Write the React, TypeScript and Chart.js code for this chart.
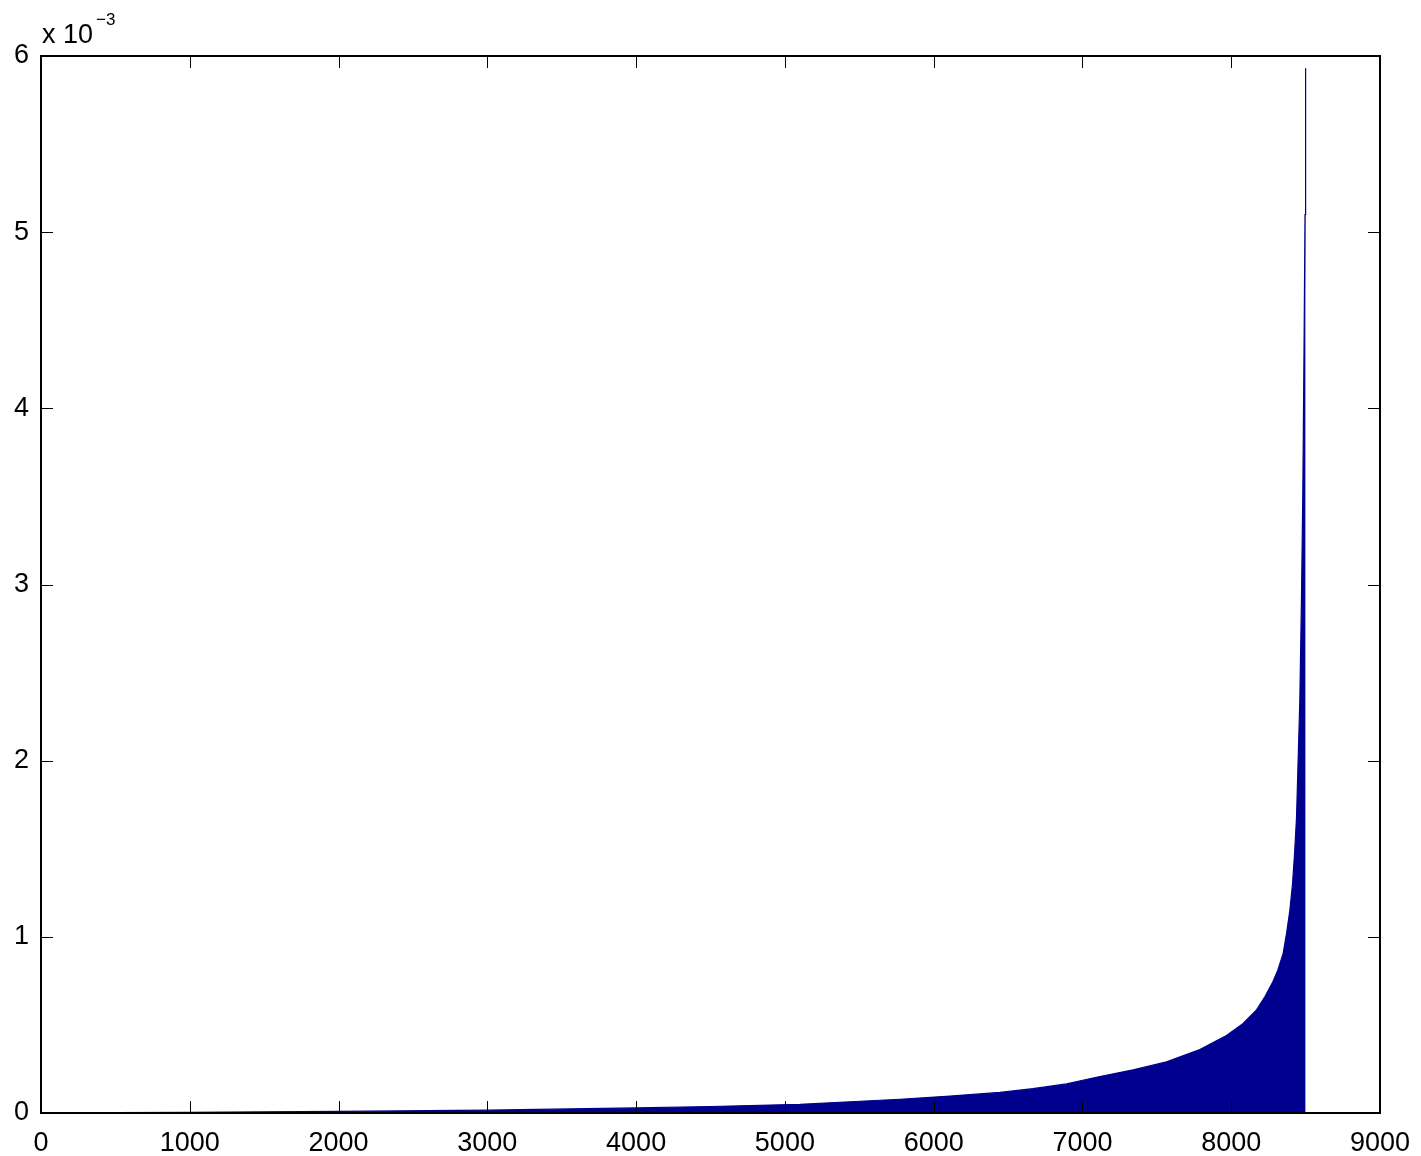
import React, { useEffect, useRef } from "react";
import { Chart, registerables } from "chart.js";

Chart.register(...registerables);

// Sorted values (units of 1e-3) at sample indices
const sampleIndex = [1, 1000, 2000, 3000, 4000, 4500, 5101, 5437, 5773, 6109, 6445, 6667, 6893, 7117, 7341, 7565, 7789, 7968, 8078, 8170, 8226, 8280, 8313, 8349, 8372, 8394, 8412, 8427, 8439, 8461, 8472, 8481, 8490, 8496, 8500];
const valueE3 = [0.001, 0.004, 0.009, 0.016, 0.029, 0.037, 0.049, 0.064, 0.078, 0.096, 0.117, 0.138, 0.165, 0.207, 0.245, 0.29, 0.36, 0.44, 0.507, 0.585, 0.66, 0.745, 0.81, 0.906, 1.02, 1.15, 1.3, 1.49, 1.68, 2.34, 2.91, 3.5, 4.4, 5.1, 5.93];

const xTicks = [0, 1000, 2000, 3000, 4000, 5000, 6000, 7000, 8000, 9000];
const yTicks = [0, 1, 2, 3, 4, 5, 6];
const exponentBase = "x 10";
const exponentPower = "\u22123";

const FONT = "'Liberation Sans', Arial, Helvetica, sans-serif";
const BLUE = "#00008F";

const boxPlugin = {
  id: "matlabBox",
  afterDraw(chart: any) {
    const { ctx, chartArea } = chart;
    const { left, right, top, bottom } = chartArea;
    const xs = chart.scales.x;
    const ys = chart.scales.y;
    ctx.save();
    ctx.strokeStyle = "#000";
    ctx.lineWidth = 2;
    ctx.strokeRect(left, top, right - left, bottom - top);
    ctx.lineWidth = 1;
    const tl = 12;
    ctx.beginPath();
    xs.ticks.forEach((t: any) => {
      const p = Math.round(xs.getPixelForValue(t.value)) + 0.5;
      ctx.moveTo(p, bottom);
      ctx.lineTo(p, bottom - tl);
      ctx.moveTo(p, top);
      ctx.lineTo(p, top + tl);
    });
    ys.ticks.forEach((t: any) => {
      const p = Math.round(ys.getPixelForValue(t.value)) + 0.5;
      ctx.moveTo(left, p);
      ctx.lineTo(left + tl, p);
      ctx.moveTo(right, p);
      ctx.lineTo(right - tl, p);
    });
    ctx.stroke();
    // exponent label
    ctx.fillStyle = "#000";
    ctx.textBaseline = "alphabetic";
    ctx.textAlign = "left";
    ctx.font = `27px ${FONT}`;
    ctx.fillText(exponentBase, left + 1, top - 13);
    const w = ctx.measureText(exponentBase).width;
    ctx.font = `17px ${FONT}`;
    ctx.fillText(exponentPower, left + 1 + w + 3, top - 31);
    ctx.restore();
  },
};

export default function App() {
  const ref = useRef<HTMLCanvasElement>(null);
  useEffect(() => {
    if (!ref.current) return;
    const data = sampleIndex.map((x, i) => ({ x, y: valueE3[i] }));
    const chart = new Chart(ref.current, {
      type: "line",
      data: {
        datasets: [
          {
            data,
            borderColor: BLUE,
            backgroundColor: BLUE,
            borderWidth: 1.2,
            pointRadius: 0,
            tension: 0,
            fill: "origin",
          },
        ],
      },
      options: {
        animation: false,
        responsive: false,
        events: [],
        layout: { padding: { top: 56, right: 41, left: 0, bottom: 0 } },
        plugins: { legend: { display: false }, tooltip: { enabled: false } },
        scales: {
          x: {
            type: "linear",
            min: 0,
            max: 9000,
            afterBuildTicks: (s: any) => {
              s.ticks = xTicks.map((v) => ({ value: v }));
            },
            afterFit: (s: any) => {
              s.height = 43;
            },
            grid: { display: false },
            border: { display: false },
            ticks: {
              autoSkip: false,
              maxRotation: 0,
              padding: 6,
              color: "#000",
              font: { family: FONT, size: 27 },
              callback: (v: any) => String(v),
            },
          },
          y: {
            type: "linear",
            min: 0,
            max: 6,
            afterBuildTicks: (s: any) => {
              s.ticks = yTicks.map((v) => ({ value: v }));
            },
            afterFit: (s: any) => {
              s.width = 41;
            },
            grid: { display: false },
            border: { display: false },
            ticks: {
              padding: 4,
              color: "#000",
              font: { family: FONT, size: 27 },
              callback: (v: any) => String(v),
            },
          },
        },
      },
      plugins: [boxPlugin],
    });
    return () => chart.destroy();
  }, []);
  return (
    <div style={{ position: "fixed", left: 0, top: 0, width: 1421, height: 1156, background: "#fff" }}>
      <canvas ref={ref} width={1421} height={1156} style={{ display: "block" }} />
    </div>
  );
}
